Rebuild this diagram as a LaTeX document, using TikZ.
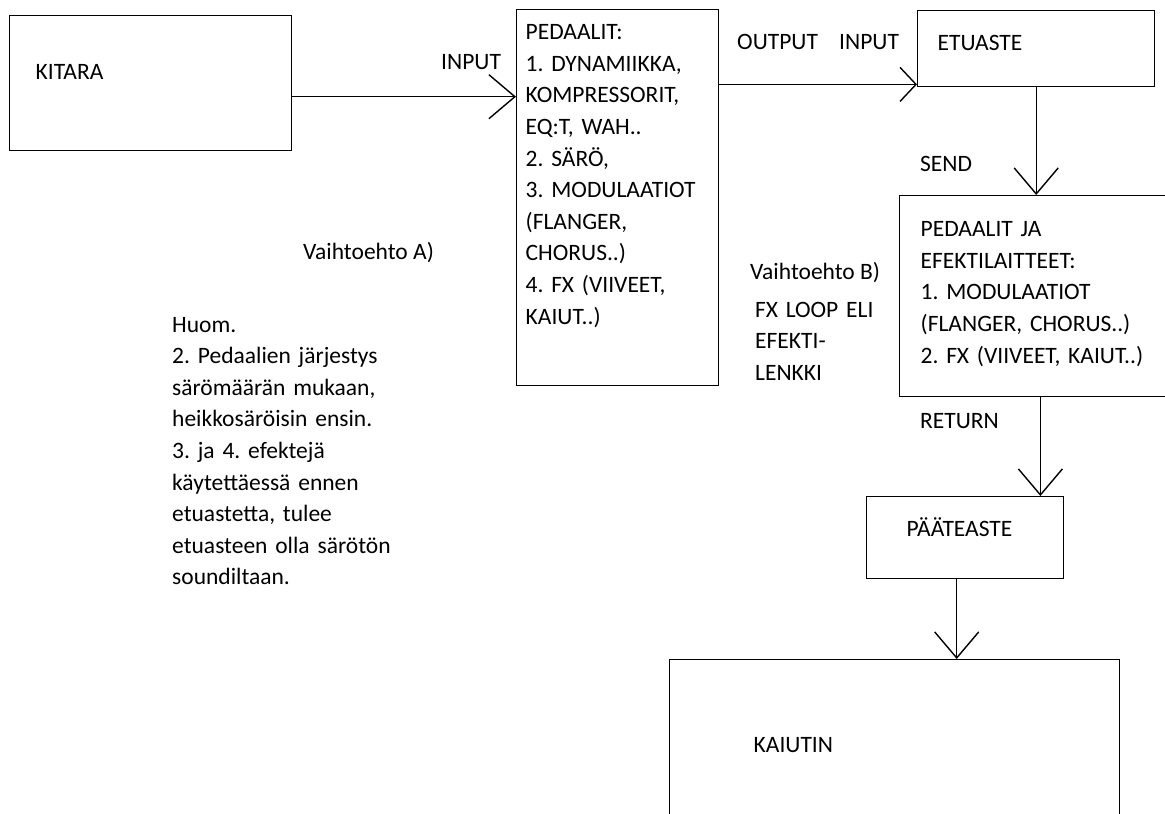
\documentclass[tikz,border=0pt]{standalone}
\usepackage{fontspec}
\setmainfont{Carlito}
\frenchspacing
\usetikzlibrary{arrows.meta,positioning}

\begin{document}
\begin{tikzpicture}[
        x=1pt,y=-1pt,
        font=\fontsize{23.5}{31.6}\selectfont,
        box/.style={draw,line width=1.4pt,anchor=north west,align=left,inner ysep=0pt},
        note/.style={anchor=base west,align=left,inner sep=0pt},
        arr/.style={line width=1.4pt,-{Straight Barb[length=26pt,width=44pt]}},
        arrsmall/.style={line width=1.4pt,-{Straight Barb[length=16pt,width=34pt]}}
      ]
      \useasboundingbox (0,0) rectangle (1165,814);
      \node[box,inner xsep=26pt,text width=230pt,text height=64pt,text depth=71pt] (kitara) at (9,15) {KITARA};
      \node[box,inner xsep=9pt,text width=184pt,text height=30pt,text depth=346pt] (pedaalit) at (516,9) {PEDAALIT:\\1. DYNAMIIKKA,\\KOMPRESSORIT,\\EQ:T, WAH..\\2. SÄRÖ,\\3. MODULAATIOT\\(FLANGER,\\CHORUS..)\\4. FX (VIIVEET,\\KAIUT..)};
      \node[box,inner xsep=20pt,text width=197pt,text height=40pt,text depth=36pt] (etuaste) at (917,10) {ETUASTE};
      \node[box,inner xsep=21pt,text width=270pt,text height=41pt,text depth=160pt] (pedja) at (899,195) {PEDAALIT JA\\EFEKTILAITTEET:\\1. MODULAATIOT\\(FLANGER, CHORUS..)\\2. FX (VIIVEET, KAIUT..)};
      \node[box,inner xsep=40pt,text width=117pt,text height=40pt,text depth=42pt] (paate) at (866,496) {PÄÄTEASTE};
      \node[box,inner xsep=84pt,text width=282pt,text height=93pt,text depth=150pt] (kaiutin) at (669,659) {KAIUTIN};

      \node[note] (inA) at (441,69) {INPUT};
      \node[note] (outB) at (737,49) {OUTPUT};
      \node[note] (inB) at (839,49) {INPUT};
      \node[note] (send) at (920,171) {SEND};
      \node[note] (ret) at (920,428) {RETURN};
      \node[note] (altA) at (303,259) {Vaihtoehto A)};
      \node[note] (altB) at (750,279) {Vaihtoehto B)};
      \node[note,text width=140pt] (loop) at (755,317) {FX LOOP ELI\\EFEKTI-\\LENKKI};
      \node[note,text width=270pt] (huom) at (172,332) {Huom.\\2. Pedaalien järjestys\\särömäärän mukaan,\\heikkosäröisin ensin.\\3. ja 4. efektejä\\käytettäessä ennen\\etuastetta, tulee\\etuasteen olla särötön\\soundiltaan.};

      \draw[arr] ([yshift=-13.5pt]kitara.east) -- ([yshift=-13.5pt]kitara.east -| pedaalit.west);
      \draw[arrsmall] ([yshift=3pt]etuaste.south west -| pedaalit.east) -- ([yshift=3pt]etuaste.south west);
      \draw[arr] (etuaste.south) -- (etuaste.south |- pedja.north);
      \draw[arr] ([xshift=-24pt]paate.north east |- pedja.south) -- ([xshift=-24pt]paate.north east);
      \draw[arr] ([xshift=-8.5pt]paate.south) -- ([xshift=-8.5pt]paate.south |- kaiutin.north);
    \end{tikzpicture}
\end{document}
